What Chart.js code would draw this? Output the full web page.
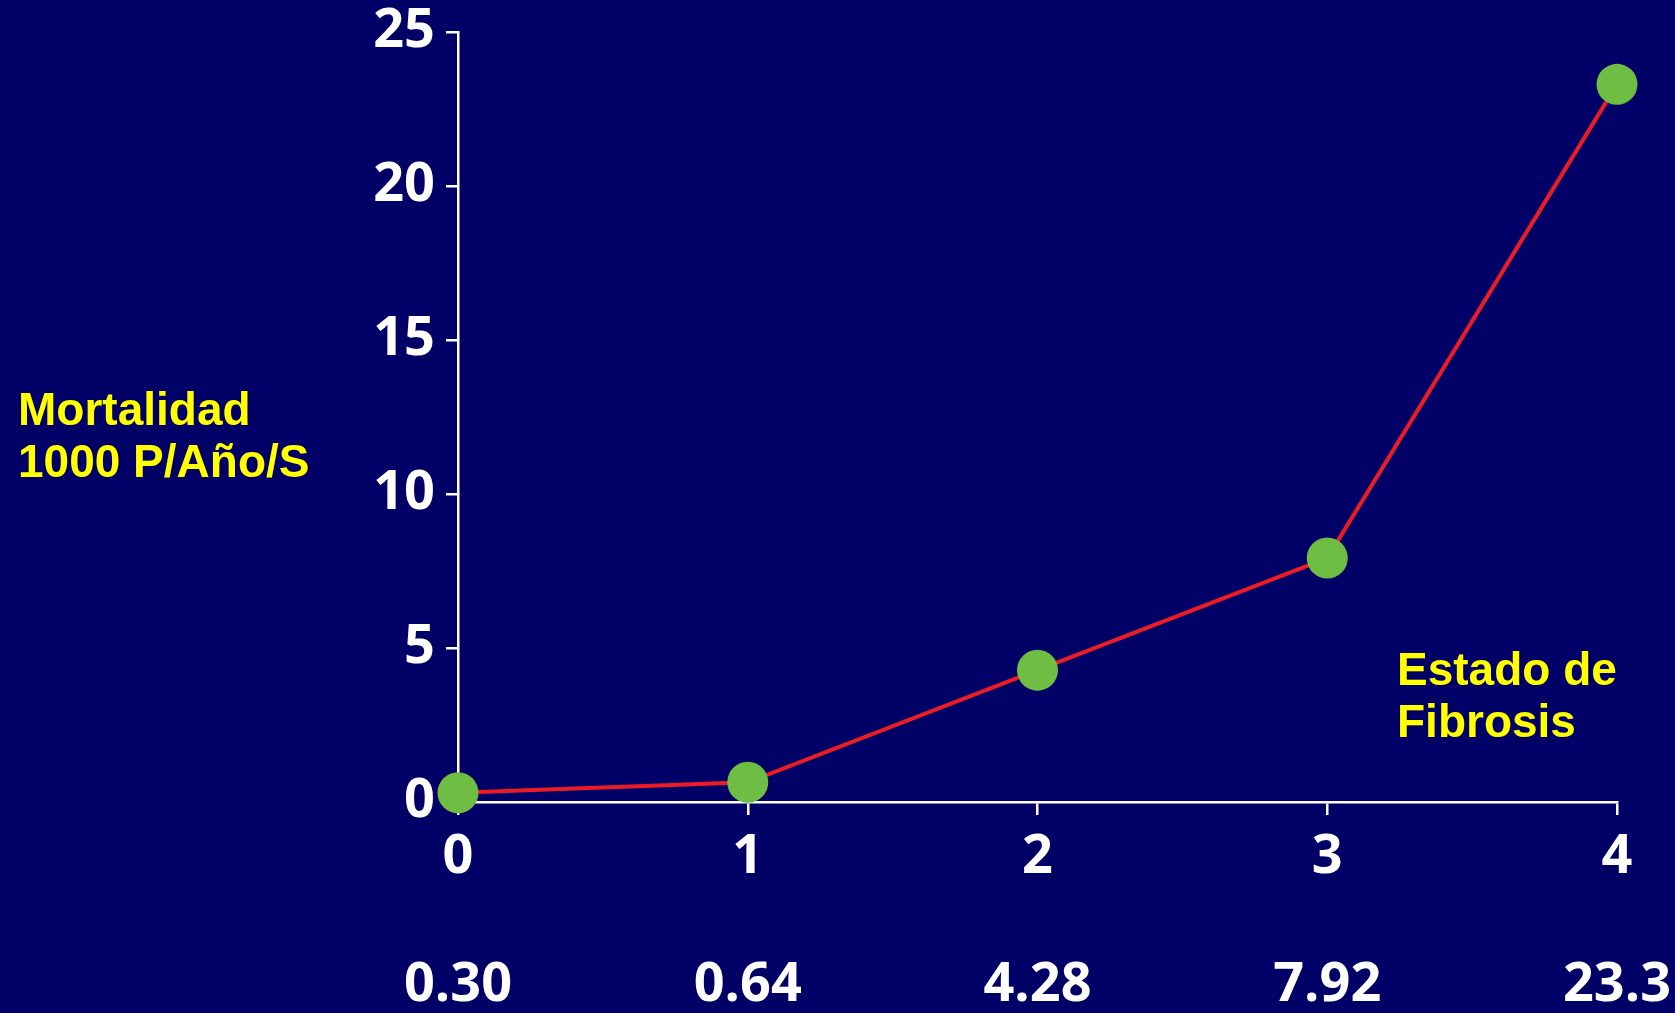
<!DOCTYPE html>
<html>
<head>
<meta charset="utf-8">
<script src="https://cdn.jsdelivr.net/npm/chart.js@4/dist/chart.umd.min.js"></script>
<style>
  html, body { margin: 0; padding: 0; background: #000066; }
  #wrap { width: 1675px; height: 1013px; position: relative; }
</style>
</head>
<body>
<div id="wrap"><canvas id="c" width="1675" height="1013"></canvas></div>
<script>
// Fibrosis stage on the x axis, mortality per 1000 person-years on the y axis
const stages = ['0', '1', '2', '3', '4'];
const mortality = [0.30, 0.64, 4.28, 7.92, 23.3];
const yTicks = [0, 5, 10, 15, 20, 25];

const fmt = v => (v < 10 ? v.toFixed(2) : v.toFixed(1));
// each x tick shows the stage, a spacer line, then the rate for that stage
const xLabels = stages.map((s, i) => [s, '', fmt(mortality[i])]);

const WHITE = '#ffffff';
const YELLOW = '#ffff00';
const tickFont = { family: '"Open Sans", sans-serif', weight: 'bold', size: 54 };

const background = {
  id: 'background',
  beforeDraw(chart) {
    const { ctx, width, height } = chart;
    ctx.save();
    ctx.fillStyle = '#000066';
    ctx.fillRect(0, 0, width, height);
    ctx.restore();
  }
};

const captions = {
  id: 'captions',
  afterDraw(chart) {
    const { ctx } = chart;
    ctx.save();
    ctx.fillStyle = YELLOW;
    ctx.font = 'bold 46px "Liberation Sans", Arial, sans-serif';
    ctx.textAlign = 'left';
    ctx.textBaseline = 'alphabetic';
    ctx.fillText('Mortalidad', 18, 425);
    ctx.fillText('1000 P/Año/S', 18, 477);
    ctx.fillText('Estado de', 1397, 685);
    ctx.fillText('Fibrosis', 1397, 737);
    ctx.restore();
  }
};

new Chart(document.getElementById('c'), {
  type: 'line',
  data: {
    labels: xLabels,
    datasets: [{
      data: mortality,
      borderColor: '#ed1c24',
      borderWidth: 4,
      pointBackgroundColor: '#6fbe44',
      pointBorderColor: '#6fbe44',
      pointBorderWidth: 0,
      pointRadius: 20.5,
      pointHoverRadius: 20.5,
      tension: 0,
      clip: false
    }]
  },
  options: {
    responsive: false,
    animation: false,
    devicePixelRatio: 1,
    layout: { padding: { left: 0, right: 58, top: 32, bottom: 0 } },
    plugins: {
      legend: { display: false },
      tooltip: { enabled: false },
      title: { display: false }
    },
    scales: {
      x: {
        offset: false,
        grid: { display: true, drawOnChartArea: false, drawTicks: true, tickLength: 13, color: WHITE, lineWidth: 2.5 },
        border: { display: true, color: WHITE, width: 2.5 },
        ticks: { color: WHITE, font: { ...tickFont, lineHeight: 64 / 54 }, padding: 11, maxRotation: 0, autoSkip: false },
        afterFit(scale) {
          scale.height = 211;
          scale.paddingLeft = 0;
          scale.paddingRight = 0;
        }
      },
      y: {
        min: 0,
        max: 25,
        afterBuildTicks(scale) { scale.ticks = yTicks.map(v => ({ value: v })); },
        grid: { display: true, drawOnChartArea: false, drawTicks: true, tickLength: 12, color: WHITE, lineWidth: 2.5 },
        border: { display: true, color: WHITE, width: 2.5 },
        ticks: { color: WHITE, font: tickFont, padding: 11 },
        afterFit(scale) {
          scale.width = 458;
          scale.paddingTop = 0;
          scale.paddingBottom = 0;
        }
      }
    }
  },
  plugins: [background, captions]
});
</script>
</body>
</html>
